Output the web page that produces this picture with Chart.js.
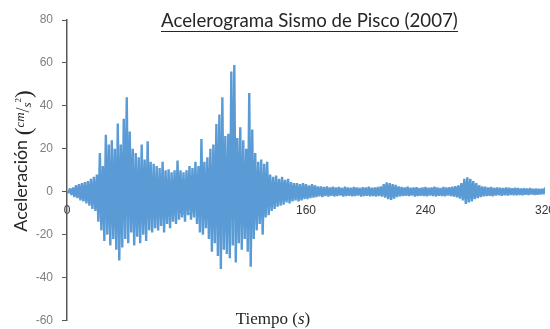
<!DOCTYPE html>
<html>
<head>
<meta charset="utf-8">
<script src="https://cdn.jsdelivr.net/npm/chart.js@4.4.0/dist/chart.umd.min.js"></script>
<style>
  html, body { margin: 0; padding: 0; background: #fff; }
  #wrap { width: 550px; height: 329px; position: relative; }
</style>
</head>
<body>
<div id="wrap"><canvas id="accelChart"></canvas></div>
<script>
// Positive peaks, one every 2 s starting at t = 0 (cm/s²)
const upperPeaks = [
  0, 1.5, 2, 3, 3.5, 4, 4.5, 5, 6, 7,
  8, 18, 12, 26.5, 22, 24, 20, 31.8, 22, 34,
  44, 28, 20, 18, 16, 22, 15, 23.5, 14, 13,
  12, 11, 14, 10, 10.5, 9, 10, 14.5, 10, 9,
  10, 12, 11, 14, 12, 24.5, 14, 16, 20, 22,
  31.5, 36, 44, 26, 27, 56, 59, 25, 30, 24,
  20, 46, 29, 18, 14, 15, 13, 14, 8, 7,
  7.5, 6, 7, 5.5, 6, 4.5, 4, 4, 3.5, 4,
  3.5, 3, 3.5, 3, 2.5, 2.5, 2.2, 2.5, 2, 2.3,
  2, 2.2, 1.8, 2.4, 2, 1.9, 2.2, 2, 1.8, 2.1,
  2, 2.3, 1.9, 2, 2.2, 2.5, 3.5, 4.3, 4, 3.5,
  3.2, 2.5, 2.2, 2, 2.3, 1.9, 2, 2.1, 1.8, 2,
  2.2, 1.9, 2, 2.3, 2, 1.8, 2.2, 2, 2.1, 2.4,
  2.6, 3, 4, 6, 6.7, 6, 5, 4, 3, 2.5,
  2.3, 2, 2.2, 1.8, 2, 1.9, 1.7, 2, 1.8, 1.6,
  1.8, 1.7, 1.5, 1.6, 1.5, 1.7, 1.4, 1.5, 1.3, 1.4, 2
];
// Negative peaks, one every 2 s starting at t = 1 (cm/s²)
const lowerPeaks = [
  -0.5, -1.5, -2.5, -3, -4, -4.5, -5.5, -6.5, -8, -9,
  -14, -18, -23, -20, -25, -22, -27, -32, -26, -22,
  -24, -19, -25, -21, -24, -20, -23, -18, -19, -17,
  -18, -16, -19, -15, -17, -14, -15, -13, -12, -14,
  -11, -13, -12, -15, -19, -20, -17, -22, -28, -24,
  -30, -36, -27, -29, -31, -25, -33, -24, -27, -22,
  -28, -35, -22, -18, -15, -20, -12, -11, -9, -8,
  -7, -6.5, -6, -5, -5.5, -4.5, -4, -4.5, -4, -3.5,
  -3.5, -3, -2.8, -2.5, -2.2, -2.5, -2, -2.3, -1.9, -2.2,
  -2, -1.8, -2.3, -2, -1.9, -2.1, -2, -1.8, -2.2, -2,
  -1.9, -2.1, -2, -2.2, -2, -2.3, -2.8, -3.5, -3.8, -3.2,
  -2.5, -2.1, -2, -1.9, -2, -1.8, -2.2, -2, -1.9, -2,
  -2.1, -1.8, -2, -2.2, -1.9, -2, -2.1, -1.8, -2, -2.3,
  -2.6, -3.2, -4, -5.7, -5, -4.5, -3.5, -3, -2.5, -2.2,
  -2, -1.9, -2.1, -1.8, -1.7, -1.9, -1.6, -1.8, -1.5, -1.7,
  -1.6, -1.5, -1.7, -1.4, -1.5, -1.3, -1.5, -1.4, -1.3, -1.2
];
const timeTicks  = [0, 80, 160, 240, 320];
const accelTicks = [-60, -40, -20, 0, 20, 40, 60, 80];

const TITLE = 'Acelerograma Sismo de Pisco (2007)';
const BLUE  = '#5b9bd5';

// interleave the peaks: even seconds up, odd seconds down
const series = [];
for (let t = 0; t <= 320; t++) {
  const v = t % 2 === 0 ? upperPeaks[t / 2] : lowerPeaks[(t - 1) / 2];
  series.push({ x: t, y: v });
}

function fitFont(ctx, text, width, family, style) {
  ctx.font = `${style || ''} 16px ${family}`;
  const size = 16 * width / ctx.measureText(text).width;
  return `${style || ''} ${size.toFixed(2)}px ${family}`;
}

// ─── Title and axis titles ─────────────────────────────
const titlesPlugin = {
  id: 'titles',
  afterDraw(chart) {
    const ctx = chart.ctx;
    ctx.save();
    ctx.fillStyle = '#262626';
    ctx.strokeStyle = '#262626';
    ctx.textBaseline = 'alphabetic';
    ctx.textAlign = 'left';

    // main title, underlined
    ctx.font = fitFont(ctx, TITLE, 297, 'Lato');
    ctx.fillText(TITLE, 161, 27);
    ctx.lineWidth = 1;
    ctx.beginPath();
    ctx.moveTo(161, 31.5);
    ctx.lineTo(458, 31.5);
    ctx.stroke();

    // y title: Aceleración (cm/s²)
    const serif = '"Liberation Serif"';
    const yParts = [
      { text: 'Aceleración ', font: fitFont(ctx, 'Aceleración', 92, 'Lato'), dy: 0 },
      { text: '(', font: `23px ${serif}`, dy: 4 },
      { text: 'cm', font: `italic 13px ${serif}`, dy: -3 },
      { text: '/', font: `18px ${serif}`, dy: 2 },
      { text: 's', font: `italic 13px ${serif}`, dy: 4 },
      { text: '2', font: `9px ${serif}`, dy: -6 },
      { text: ')', font: `23px ${serif}`, dy: 4 }
    ];
    drawRun(ctx, yParts, 27, 161, true);

    // x title: Tiempo (s)
    const xParts = [
      { text: 'Tiempo ', font: `17px ${serif}`, dy: 0 },
      { text: '(', font: `17px ${serif}`, dy: 0 },
      { text: 's', font: `italic 17px ${serif}`, dy: 0 },
      { text: ')', font: `17px ${serif}`, dy: 0 }
    ];
    drawRun(ctx, xParts, 273, 324, false);
    ctx.restore();
  }
};

function drawRun(ctx, parts, cx, cy, rotated) {
  let total = 0;
  parts.forEach(p => { ctx.font = p.font; p.w = ctx.measureText(p.text).width; total += p.w; });
  ctx.save();
  ctx.translate(cx, cy);
  if (rotated) ctx.rotate(-Math.PI / 2);
  let x = -total / 2;
  parts.forEach(p => {
    ctx.font = p.font;
    ctx.fillText(p.text, x, p.dy);
    x += p.w;
  });
  ctx.restore();
}

new Chart(document.getElementById('accelChart'), {
  type: 'line',
  data: {
    datasets: [{
      data: series,
      borderColor: BLUE,
      backgroundColor: BLUE,
      borderWidth: 2.4,
      borderJoinStyle: 'bevel',
      pointRadius: 0,
      tension: 0,
      fill: 'origin'
    }]
  },
  options: {
    responsive: true,
    maintainAspectRatio: false,
    animation: false,
    events: [],
    layout: { padding: { left: 0, top: 20, right: 5, bottom: 8.5 } },
    plugins: {
      legend: { display: false },
      tooltip: { enabled: false }
    },
    scales: {
      x: {
        type: 'linear',
        position: { y: 0 },
        z: 1, // time labels sit on top of the trace
        min: 0,
        max: 320,
        afterBuildTicks: s => { s.ticks = timeTicks.map(v => ({ value: v })); },
        afterFit: s => { s.height = 0; s.paddingLeft = 0; s.paddingRight = 0; },
        grid: { display: false, drawTicks: false },
        border: { display: false },
        ticks: {
          color: '#333',
          padding: 12,
          maxRotation: 0,
          font: { family: 'Liberation Sans', size: 12 }
        }
      },
      y: {
        min: -60,
        max: 80,
        afterBuildTicks: s => { s.ticks = accelTicks.map(v => ({ value: v })); },
        afterFit: s => { s.width = 67; s.paddingTop = 0; s.paddingBottom = 0; },
        grid: {
          drawOnChartArea: false,
          drawTicks: true,
          tickLength: 5,
          color: '#595959',
          lineWidth: 1
        },
        border: { color: '#595959', width: 1.5 },
        ticks: {
          color: '#7f7f7f',
          padding: 9,
          font: { family: 'Liberation Sans', size: 12 }
        }
      }
    }
  },
  plugins: [titlesPlugin]
});
</script>
</body>
</html>
